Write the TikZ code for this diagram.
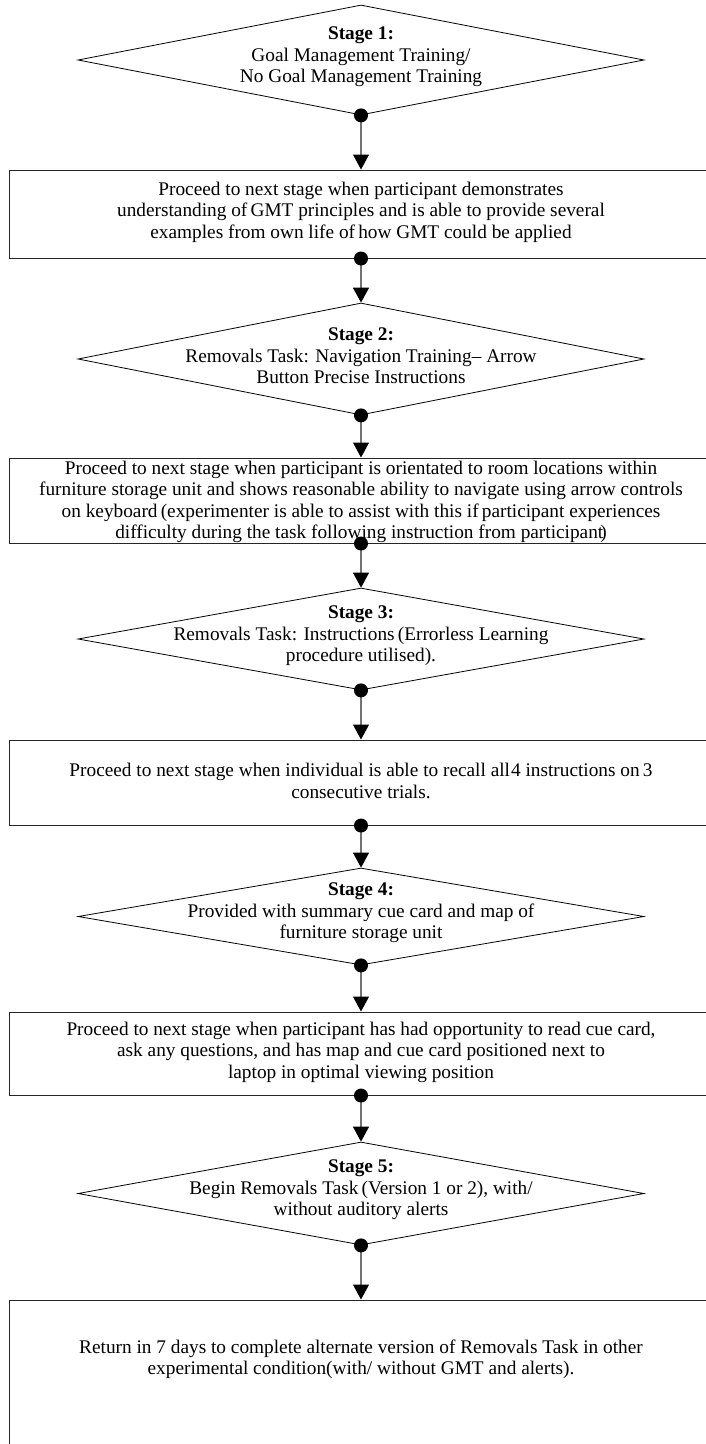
\documentclass[tikz,border=0pt]{standalone}
\usepackage{fontspec}
\setmainfont{Liberation Serif}
\usetikzlibrary{shapes.geometric,arrows.meta}
\tikzset{
  stagebox/.style={shape=diamond, draw=black, line width=0.8pt, inner sep=0pt, minimum width=566pt},
  procbox/.style={shape=rectangle, draw=black!85, line width=1pt, inner sep=0pt, minimum width=704pt},
  txt/.style={align=center, font=\fontsize{19.3}{21.5}\selectfont, inner sep=0pt},
  dotmark/.style={shape=circle, fill=black, inner sep=0pt, minimum size=14pt},
  link/.style={draw=black!55, line width=1.2pt, -{Triangle[length=15pt,width=16pt,black]}}
}
\begin{document}
\begin{tikzpicture}[x=1pt,y=-1pt]
\useasboundingbox (0,0) rectangle (705,1444);
% diamonds
\node[stagebox, minimum height=110pt] (d1) at (361,60) {};
\node[stagebox, minimum height=112pt] (d2) at (361,359) {};
\node[stagebox, minimum height=102pt] (d3) at (361,639) {};
\node[stagebox, minimum height=97pt] (d4) at (361,916.5) {};
\node[stagebox, minimum height=103pt] (d5) at (361,1193.5) {};
% boxes
\node[procbox, minimum height=88pt] (b1) at (361,214) {};
\node[procbox, minimum height=85pt] (b2) at (361,500.5) {};
\node[procbox, minimum height=85pt] (b3) at (361,782.5) {};
\node[procbox, minimum height=83pt] (b4) at (361,1053.5) {};
\node[procbox, minimum height=170pt] (b5) at (361,1385) {};
% texts
\node[txt] (t1) at (361,57) {\textbf{Stage 1:}\\Goal Management Training/\\No Goal Management Training};
\node[txt] (t2) at (361,356) {\textbf{Stage 2:}\\Removals Task: Navigation Training– Arrow\\Button Precise Instructions};
\node[txt] (t3) at (361,636) {\textbf{Stage 3:}\\Removals Task: Instructions\,(Errorless Learning\\procedure utilised).};
\node[txt] (t4) at (361,913) {\textbf{Stage 4:}\\Provided with summary cue card and map of\\furniture storage unit};
\node[txt] (t5) at (361,1190) {\textbf{Stage 5:}\\Begin Removals Task\,(Version 1 or 2), with/\\without auditory alerts};
\node[txt] (p1) at (361,212) {Proceed to next stage when participant demonstrates\\understanding of\,GMT principles and is able to provide several\\examples from own life of\,how GMT could be applied};
\node[txt] (p2) at (361,502) {Proceed to next stage when participant is orientated to room locations within\\furniture storage unit and shows reasonable ability to navigate using arrow controls\\on keyboard\,(experimenter is able to assist with this if\,participant experiences\\difficulty during the task following instruction from participant\kern-3pt)};
\node[txt] (p3) at (361,781) {Proceed to next stage when individual is able to recall all\kern1pt4 instructions on\,3\\consecutive trials.};
\node[txt] (p4) at (361,1052) {Proceed to next stage when participant has had opportunity to read cue card,\\ask any questions, and has map and cue card positioned next to\\laptop in optimal viewing position};
\node[txt] (p5) at (361,1359) {Return in 7 days to complete alternate version of Removals Task in other\\experimental condition(with/ without GMT and alerts).};
% connectors
\draw[link] (d1.south) -- (b1.north);
\draw[link] (b1.south) -- (d2.north);
\draw[link] (d2.south) -- (b2.north);
\draw[link] (b2.south) -- (d3.north);
\draw[link] (d3.south) -- (b3.north);
\draw[link] (b3.south) -- (d4.north);
\draw[link] (d4.south) -- (b4.north);
\draw[link] (b4.south) -- (d5.north);
\draw[link] (d5.south) -- (b5.north);
% dots
\node[dotmark] (k1) at (d1.south) {};
\node[dotmark] (k2) at (b1.south) {};
\node[dotmark] (k3) at (d2.south) {};
\node[dotmark] (k4) at (b2.south) {};
\node[dotmark] (k5) at (d3.south) {};
\node[dotmark] (k6) at (b3.south) {};
\node[dotmark] (k7) at (d4.south) {};
\node[dotmark] (k8) at (b4.south) {};
\node[dotmark] (k9) at (d5.south) {};
\end{tikzpicture}
\end{document}
